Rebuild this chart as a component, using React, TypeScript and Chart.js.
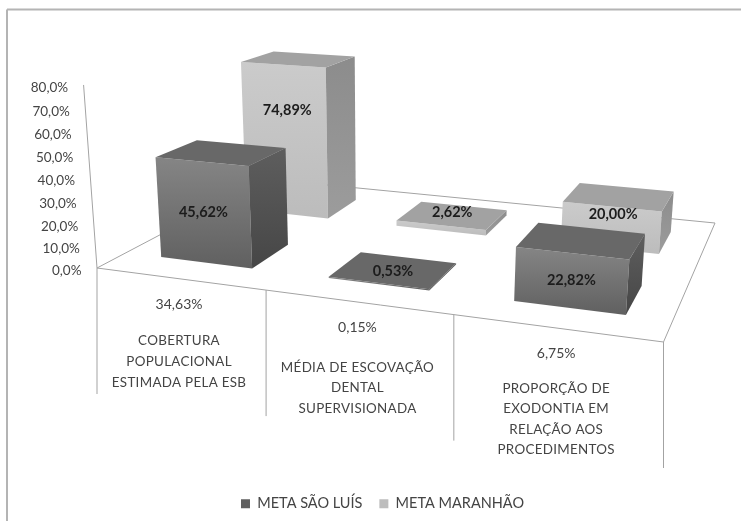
import React, { useEffect, useRef } from "react";
import { Chart, registerables } from "chart.js";

Chart.register(...registerables);

const categoryLines = [
  ["COBERTURA", "POPULACIONAL", "ESTIMADA PELA ESB"],
  ["MÉDIA DE ESCOVAÇÃO", "DENTAL", "SUPERVISIONADA"],
  ["PROPORÇÃO DE", "EXODONTIA EM", "RELAÇÃO AOS", "PROCEDIMENTOS"],
];
const categoryValues = ["34,63%", "0,15%", "6,75%"];
const metaSaoLuis = [45.62, 0.53, 22.82];
const metaMaranhao = [74.89, 2.62, 20.0];
const seriesNames = ["META SÃO LUÍS", "META MARANHÃO"];
const yTickStep = 10;
const yMax = 80;

const FONT = "Lato, 'Open Sans', sans-serif";
const LINE = "#a3a3a3";
const TEXT = "#444444";

// Perspective floor: corners of the unit square (front-left, front-right, back-right, back-left)
const C = [[97, 268], [663.5, 342], [715, 223], [266, 179]];
const den = (C[1][0] - C[2][0]) * (C[3][1] - C[2][1]) - (C[3][0] - C[2][0]) * (C[1][1] - C[2][1]);
const sx = C[0][0] - C[1][0] + C[2][0] - C[3][0];
const sy = C[0][1] - C[1][1] + C[2][1] - C[3][1];
const G = (sx * (C[3][1] - C[2][1]) - (C[3][0] - C[2][0]) * sy) / den;
const H = ((C[1][0] - C[2][0]) * sy - sx * (C[1][1] - C[2][1])) / den;
const VX = 385;
const VY = 4200;
const W = -0.000556;

function proj(u: number, v: number, z = 0): [number, number] {
  const X = C[0][0] + (C[1][0] - C[0][0] + G * C[1][0]) * u + (C[3][0] - C[0][0] + H * C[3][0]) * v;
  const Y = C[0][1] + (C[1][1] - C[0][1] + G * C[1][1]) * u + (C[3][1] - C[0][1] + H * C[3][1]) * v;
  const w = 1 + G * u + H * v;
  const k = z * W;
  return [(X + k * VX) / (w + k), (Y + k * VY) / (w + k)];
}

const BAR_HALF_U = 0.0925;
const BAR_HALF_V = 0.11;

const faces = [
  { front: ["#858585", "#606060"], side: ["#5e5e5e", "#464646"], top: "#686868" },
  { front: ["#cbcbcb", "#bcbcbc"], side: ["#8c8c8c", "#9c9c9c"], top: "#a2a2a2" },
];
// label placement relative to the centre of each bar's front face
const labelShift = [
  [[-1, 0], [14, -12], [0, 0]],
  [[2, -29], [11, -16], [2, -13]],
];
const categoryTextGap = [37, 40, 35];

function poly(ctx: CanvasRenderingContext2D, pts: number[][], fill: any) {
  ctx.beginPath();
  pts.forEach((p, i) => (i ? ctx.lineTo(p[0], p[1]) : ctx.moveTo(p[0], p[1])));
  ctx.closePath();
  ctx.fillStyle = fill;
  ctx.fill();
}

function line(ctx: CanvasRenderingContext2D, a: number[], b: number[]) {
  ctx.beginPath();
  ctx.moveTo(a[0], a[1]);
  ctx.lineTo(b[0], b[1]);
  ctx.stroke();
}

const scene3d = {
  id: "scene3d",
  beforeDatasetDraw() {
    return false;
  },
  beforeDatasetsDraw(chart: any) {
    const ctx: CanvasRenderingContext2D = chart.ctx;
    const xs = chart.scales.x;
    const ys = chart.scales.y;
    const n = chart.data.labels.length;
    ctx.save();

    // picture frame (top and left only)
    ctx.strokeStyle = "#b4b4b4";
    ctx.lineWidth = 2;
    line(ctx, [7, 521], [7, 9.5]);
    line(ctx, [7, 9.5], [741, 9.5]);

    // floor and value axis
    ctx.strokeStyle = LINE;
    ctx.lineWidth = 1;
    const fl = [proj(0, 0), proj(1, 0), proj(1, 1), proj(0, 1)];
    fl.forEach((p, i) => line(ctx, p, fl[(i + 1) % 4]));
    line(ctx, proj(0, 0), proj(0, 0, yMax));

    // value-axis labels follow the leaning axis
    ctx.font = `13.5px ${FONT}`;
    ctx.fillStyle = TEXT;
    ctx.textAlign = "right";
    ctx.textBaseline = "middle";
    ys.ticks.forEach((t: any) => {
      const p = proj(0, 0, t.value);
      ctx.fillText(t.label, p[0] - 15.5, p[1] + 2.5);
    });

    // category cells hanging under the front edge
    for (let i = 0; i <= n; i++) {
      const p = proj(i / n, 0);
      line(ctx, p, [p[0], p[1] + 126]);
    }
    ctx.textAlign = "center";
    chart.data.labels.forEach((_: string, i: number) => {
      const a = proj(i / n, 0);
      const b = proj((i + 1) / n, 0);
      const cx = (a[0] + b[0]) / 2 - 2.5;
      const cy = (a[1] + b[1]) / 2 + 25;
      ctx.font = `14px ${FONT}`;
      ctx.fillText(categoryValues[i], cx, cy);
      ctx.font = `13.4px ${FONT}`;
      categoryLines[i].forEach((t, k) => {
        (ctx as any).letterSpacing = "0.3px";
        ctx.fillText(t, cx, cy + categoryTextGap[i] + k * 20.6);
        (ctx as any).letterSpacing = "0px";
      });
    });

    // bars, back row first
    for (let d = chart.data.datasets.length - 1; d >= 0; d--) {
      const meta = chart.getDatasetMeta(d);
      const vc = (d + 0.5) / chart.data.datasets.length;
      const v0 = vc - BAR_HALF_V;
      const v1 = vc + BAR_HALF_V;
      meta.data.forEach((_: any, j: number) => {
        const z = meta.controller.getParsed(j).y;
        const uc = xs.getDecimalForPixel(xs.getPixelForValue(j));
        const u0 = uc - BAR_HALF_U;
        const u1 = uc + BAR_HALF_U;
        const fb0 = proj(u0, v0);
        const fb1 = proj(u1, v0);
        const bb1 = proj(u1, v1);
        const ft0 = proj(u0, v0, z);
        const ft1 = proj(u1, v0, z);
        const bt0 = proj(u0, v1, z);
        const bt1 = proj(u1, v1, z);
        const f = faces[d];
        const gf = ctx.createLinearGradient(0, Math.min(ft0[1], ft1[1]), 0, Math.max(fb0[1], fb1[1]));
        gf.addColorStop(0, f.front[0]);
        gf.addColorStop(1, f.front[1]);
        poly(ctx, [fb0, fb1, ft1, ft0], gf);
        const gs = ctx.createLinearGradient(0, bt1[1], 0, fb1[1]);
        gs.addColorStop(0, f.side[0]);
        gs.addColorStop(1, f.side[1]);
        poly(ctx, [fb1, bb1, bt1, ft1], gs);
        poly(ctx, [ft0, ft1, bt1, bt0], f.top);

        const s = labelShift[d][j];
        const lx = (fb0[0] + fb1[0] + ft0[0] + ft1[0]) / 4 + s[0];
        const ly = (fb0[1] + fb1[1] + ft0[1] + ft1[1]) / 4 + s[1];
        ctx.font = `bold 14.5px ${FONT}`;
        ctx.fillStyle = "#1c1c1c";
        ctx.textAlign = "center";
        ctx.fillText(String(z.toFixed(2)).replace(".", ",") + "%", lx, ly);
      });
    }
    ctx.restore();
  },
};

export default function App() {
  const ref = useRef<HTMLCanvasElement>(null);
  useEffect(() => {
    document.body.style.margin = "0";
    document.body.style.overflow = "hidden";
    const chart = new Chart(ref.current!, {
      type: "bar",
      data: {
        labels: categoryLines.map((l) => l.join(" ")),
        datasets: [
          { label: seriesNames[0], data: metaSaoLuis, backgroundColor: "#5f5f5f" },
          { label: seriesNames[1], data: metaMaranhao, backgroundColor: "#bdbdbd" },
        ],
      },
      options: {
        responsive: false,
        animation: false,
        layout: { padding: { left: 24, bottom: 0 } },
        scales: {
          x: { display: false },
          y: {
            display: false,
            min: 0,
            max: yMax,
            ticks: {
              stepSize: yTickStep,
              callback: (v: any) => Number(v).toFixed(1).replace(".", ",") + "%",
            },
          },
        },
        plugins: {
          title: { display: false },
          tooltip: { enabled: false },
          legend: {
            position: "bottom",
            labels: {
              boxWidth: 9,
              boxHeight: 9,
              padding: 17,
              color: TEXT,
              font: { family: FONT, size: 14.5 },
            },
          },
        },
      },
      plugins: [scene3d],
    } as any);
    return () => chart.destroy();
  }, []);
  return (
    <canvas
      ref={ref}
      width={741}
      height={521}
      style={{ display: "block", width: 741, height: 521, background: "#fff", filter: "blur(0.45px)" }}
    />
  );
}
